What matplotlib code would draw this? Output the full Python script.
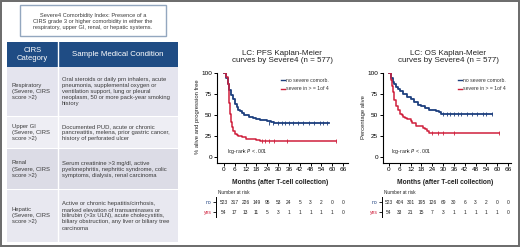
import matplotlib
matplotlib.use('Agg')
import matplotlib.pyplot as plt
from matplotlib.patches import Rectangle
from matplotlib import font_manager

# ---------------- data ----------------
note_text = ("Severe4 Comorbidity Index: Presence of a\n"
             "CIRS grade 3 or higher comorbidity in either the\n"
             "respiratory, upper GI, renal, or hepatic systems.")
header_labels = ["CIRS\nCategory", "Sample Medical Condition"]
categories = ["Respiratory\n(Severe, CIRS\nscore >2)",
              "Upper GI\n(Severe, CIRS\nscore >2)",
              "Renal\n(Severe, CIRS\nscore >2)",
              "Hepatic\n(Severe, CIRS\nscore >2)"]
conditions = ["Oral steroids or daily prn inhalers, acute\npneumonia, supplemental oxygen or\n"
              "ventilation support, lung or pleural\nneoplasm, 50 or more pack-year smoking\nhistory",
              "Documented PUD, acute or chronic\npancreatitis, melena, prior gastric cancer,\n"
              "history of perforated ulcer",
              "Serum creatinine >3 mg/dl, active\npyelonephritis, nephritic syndrome, colic\n"
              "symptoms, dialysis, renal carcinoma",
              "Active or chronic hepatitis/cirrhosis,\nmarked elevation of transaminases or\n"
              "bilirubin (>3x ULN), acute cholecystitis,\nbiliary obstruction, any liver or biliary tree\ncarcinoma"]

group_labels = ["no severe comorb.", "severe in > = 1of 4"]
risk_times = [0, 6, 12, 18, 24, 30, 36, 42, 48, 54, 60, 66]

# PFS
pfs_no_t = [0, 1, 2, 3, 4, 5, 6, 7, 8, 9, 10, 11, 12, 14, 16, 18, 20, 22, 24, 26, 28, 30, 58]
pfs_no_v = [100, 95, 88, 80, 74, 69, 64, 60, 57, 55, 53, 51, 50, 48, 47, 46, 45, 44, 43, 42, 41.5, 41, 41]
pfs_no_cens = [25, 27, 30, 32, 34, 36, 38, 41, 44, 47, 50, 53, 55, 57]
pfs_yes_t = [0, 1, 2, 2.5, 3, 3.5, 4, 4.5, 5, 6, 7, 8, 10, 12, 14, 18, 20, 62]
pfs_yes_v = [100, 96, 88, 78, 65, 52, 42, 36, 31, 28, 27, 25, 24, 22, 22, 21, 20, 20]
pfs_yes_cens = [21, 23, 25, 28, 35, 62]
pfs_risk_no = [523, 317, 226, 149, 95, 53, 24, 5, 3, 2, 0, 0]
pfs_risk_yes = [54, 17, 13, 11, 5, 3, 1, 1, 1, 1, 1, 0]

# OS
os_no_t = [0, 1, 2, 3, 4, 5, 6, 8, 10, 12, 14, 16, 18, 20, 22, 24, 26, 28, 29, 57]
os_no_v = [100, 95, 90, 87, 84, 81, 79, 75, 72, 69, 66, 63, 61, 59, 57, 56, 55, 54, 52, 52]
os_no_cens = [30, 32, 34, 36, 38, 40, 43, 46, 49, 52, 54, 57]
os_yes_t = [0, 1, 1.5, 2, 2.5, 3, 4, 5, 6, 7, 8, 9, 10, 12, 13, 15, 17, 19, 20, 21, 22, 61]
os_yes_v = [100, 92, 85, 78, 73, 68, 61, 56, 52, 50, 48, 47, 46, 43, 41, 38, 37, 35, 34, 31, 29, 29]
os_yes_cens = [24, 27, 30, 36, 61]
os_risk_no = [523, 404, 301, 195, 126, 69, 30, 6, 3, 2, 0, 0]
os_risk_yes = [54, 33, 21, 15, 7, 3, 1, 1, 1, 1, 1, 0]

# ---------------- style ----------------
names = {f.name for f in font_manager.fontManager.ttflist}
SANS = 'Liberation Sans' if 'Liberation Sans' in names else 'DejaVu Sans'
NARROW = 'Liberation Sans Narrow' if 'Liberation Sans Narrow' in names else SANS
plt.rcParams['font.family'] = [SANS, 'DejaVu Sans']

BLUE = '#1d3f7e'
RED = '#cf1f3c'
HEAD = '#1f4c84'
TXT = '#3a3a3a'

W, H = 520, 248
fig = plt.figure(figsize=(5.2, 2.48), dpi=100)
bg = fig.add_axes([0, 0, 1, 1])
bg.set_xlim(0, W)
bg.set_ylim(H, 0)
bg.axis('off')

# outer frame
bg.add_patch(Rectangle((0.8, 0.8), W - 1.6, H - 2.4, fill=False, ec='#6a6a6a', lw=1.4))

# note box
bg.add_patch(Rectangle((20, 5), 146, 31, fc='white', ec='#93a7bf', lw=1.0))
bg.text(93, 21, note_text, ha='center', va='center', fontsize=4.1, color=TXT, linespacing=1.25)

# table
x0, xd, x1 = 7, 58, 178
bg.add_patch(Rectangle((x0, 42), x1 - x0, 24.5, fc=HEAD, ec='none'))
bg.plot([xd, xd], [42, 66.5], color='white', lw=1.0)
bg.text((x0 + xd) / 2, 54.5, header_labels[0], ha='center', va='center', fontsize=5.5,
        color='white', linespacing=1.05)
bg.text((xd + x1) / 2, 54.5, header_labels[1], ha='center', va='center', fontsize=5.7,
        color='white')

row_bounds = [(67, 116), (117, 148), (149, 189), (190, 242)]
row_colors = ['#e4e4ee', '#eeeef4', '#dcdce6', '#e8e8f0']
for (ya, yb), c, cat, cond in zip(row_bounds, row_colors, categories, conditions):
    bg.add_patch(Rectangle((x0, ya), x1 - x0, yb - ya, fc=c, ec='none'))
    bg.plot([xd, xd], [ya, yb], color='white', lw=1.0)
    ym = (ya + yb) / 2
    bg.text(12, ym, cat, ha='left', va='center', fontsize=4.2, color=TXT, linespacing=1.25)
    bg.text(62, ym, cond, ha='left', va='center', fontsize=4.2, color=TXT, linespacing=1.25)


def km_panel(xl, xr, zero_x, title, title_cx, ylabel, ylab_x, t_no, v_no, c_no, t_yes, v_yes, c_yes,
             r_no, r_yes, leg_x, pval_x):
    ppm = 1.803  # pixels per month
    y_axis = 162.5
    top = 72.6
    ax = fig.add_axes([xl / W, 1 - y_axis / H, (xr - xl) / W, (y_axis - top) / H])
    ax.set_xlim((xl - zero_x) / ppm, (xr - zero_x) / ppm)
    ax.set_ylim(-6, 101)
    ax.patch.set_alpha(0)
    for s in ['top', 'right']:
        ax.spines[s].set_visible(False)
    for s in ['left', 'bottom']:
        ax.spines[s].set_linewidth(0.8)
    ax.set_xticks(risk_times)
    ax.set_yticks([0, 25, 50, 75, 100])
    ax.tick_params(labelsize=4.6, length=2.2, width=0.7, pad=1.2, colors='black')
    ax.step(t_no, v_no, where='post', color=BLUE, lw=1.3)
    ax.step(t_yes, v_yes, where='post', color=RED, lw=1.1)
    ax.plot(c_no, [v_no[-1]] * len(c_no), ls='none', marker='|', ms=2.5, mew=0.6, color=BLUE)
    ax.plot(c_yes, [v_yes[-1]] * len(c_yes), ls='none', marker='|', ms=2.5, mew=0.6, color=RED)

    # texts in pixel space
    bg.text(title_cx, 57, title, ha='center', va='center', fontsize=5.8, color='#222222',
            linespacing=1.15)
    bg.text(ylab_x, 117, ylabel, ha='center', va='center', rotation=90, fontsize=4.2,
            family=[NARROW, SANS], color='#222222')
    bg.text((zero_x + zero_x + 66 * ppm) / 2 - 3, 182.5, "Months (after T-cell collection)",
            ha='center', va='center', fontsize=4.8, fontweight='bold', family=[NARROW, SANS],
            color='#222222')
    bg.text(pval_x, 152, "log-rank $\\it{P}$ < .001", ha='left', va='center', fontsize=3.7,
            color='#222222')
    for yy, lab, col in [(80, group_labels[0], BLUE), (88.5, group_labels[1], RED)]:
        bg.plot([leg_x - 5, leg_x - 1], [yy, yy], color=col, lw=1.0)
        bg.text(leg_x, yy, lab, ha='left', va='center', fontsize=3.7, color='#333333')

    # risk table
    bg.text(xl + 1, 193, "Number at risk", ha='left', va='center', fontsize=3.4, color='#222222')
    rax = fig.add_axes([(xl - 1) / W, 1 - 217 / H, (xr - xl) / W, 20 / H])
    rax.set_xlim((xl - 1 - zero_x) / ppm, (xr - 1 - zero_x) / ppm)
    rax.set_ylim(1.5, -0.5)
    rax.patch.set_alpha(0)
    for s in ['top', 'right', 'bottom']:
        rax.spines[s].set_visible(False)
    rax.spines['left'].set_linewidth(0.7)
    rax.set_xticks([])
    rax.set_yticks([0, 1])
    rax.set_yticklabels(['no', 'yes'])
    rax.tick_params(axis='y', labelsize=3.6, length=2, width=0.6, pad=1)
    rax.get_yticklabels()[0].set_color(BLUE)
    rax.get_yticklabels()[1].set_color(RED)
    for t, a, b in zip(risk_times, r_no, r_yes):
        rax.text(t, 0, str(a), ha='center', va='center', fontsize=3.5, color='#222222')
        rax.text(t, 1, str(b), ha='center', va='center', fontsize=3.5, color='#222222')
    return ax


km_panel(217, 348, 224, "LC: PFS Kaplan-Meier\ncurves by Severe4 (n = 577)", 282,
         "% alive and progression free", 197,
         pfs_no_t, pfs_no_v, pfs_no_cens, pfs_yes_t, pfs_yes_v, pfs_yes_cens,
         pfs_risk_no, pfs_risk_yes, leg_x=286, pval_x=227)
km_panel(383, 511, 389, "LC: OS Kaplan-Meier\ncurves by Severe4 (n = 577)", 448,
         "Percentage alive", 364,
         os_no_t, os_no_v, os_no_cens, os_yes_t, os_yes_v, os_yes_cens,
         os_risk_no, os_risk_yes, leg_x=463, pval_x=391)

fig.savefig('out.png', dpi=100)
